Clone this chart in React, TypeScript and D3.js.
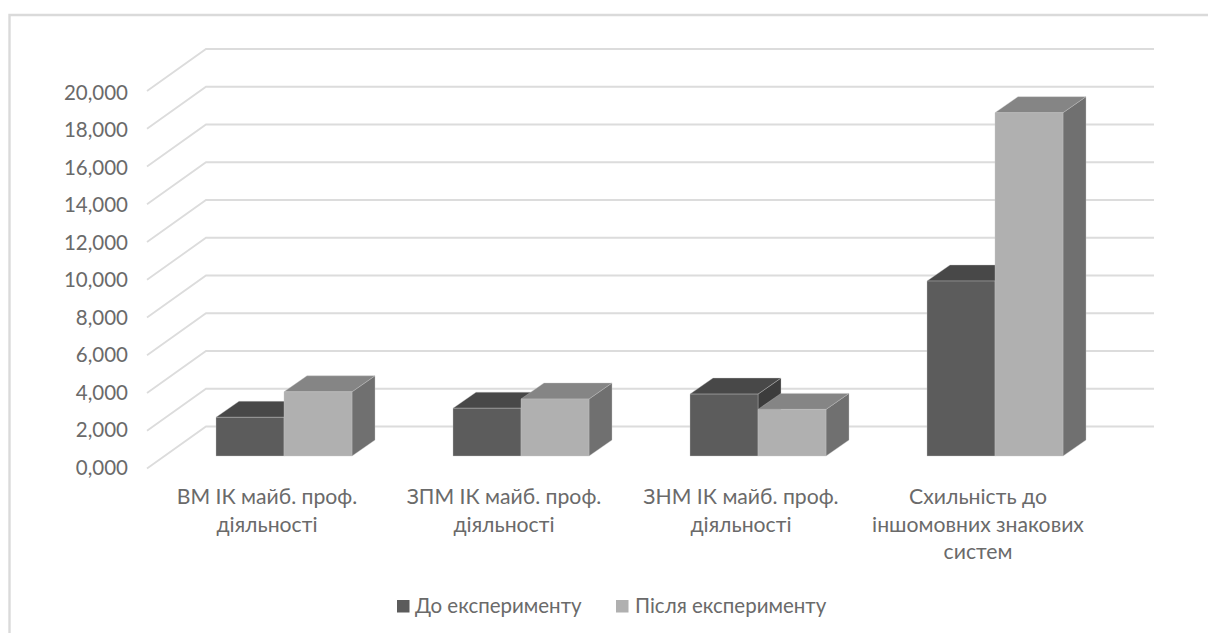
import React from "react";
import * as d3 from "d3";

const categories: string[][] = [
  ["ВМ ІК майб. проф.", "діяльності"],
  ["ЗПМ ІК майб. проф.", "діяльності"],
  ["ЗНМ ІК майб. проф.", "діяльності"],
  ["Схильність до", "іншомовних знакових", "систем"],
];
const seriesNames = ["До експерименту", "Після експерименту"];
const before = [2.05, 2.53, 3.28, 9.27];
const after = [3.4, 3.02, 2.47, 18.19];
const ticks = [0, 2, 4, 6, 8, 10, 12, 14, 16, 18, 20];

const W = 1208;
const H = 633;
const font = "Lato, 'Open Sans', sans-serif";
const fontSize = 20.5;
const categoryFontSize = 21.2;
const textColor = "#6a6a6a";
const gridColor = "#dcdcdc";

// Front-face, top-face and side-face shades for each series.
const palette = [
  { front: "#5c5c5c", top: "#484848", side: "#3c3c3c" },
  { front: "#b0b0b0", top: "#858585", side: "#707070" },
];

// Oblique projection: wall sits behind the floor's front edge by this offset.
const wallDx = 59;
const wallDy = -42;
const barDx = 23;
const barDy = -16;

const yFront = d3.scaleLinear().domain([0, 20]).range([468.5, 91]);
const yLabel = d3.scaleLinear().domain([0, 20]).range([474.5, 100]);
const xWall = d3.scaleBand<number>().domain(d3.range(4)).range([206, 1154]);
const xBars = d3.scaleBand<number>().domain(d3.range(4)).range([165.5, 1113.5]);
const innerBar = d3.scaleBand<number>().domain([0, 1]).range([-68, 68]);
const barBaseY = 456;
const unitsToPx = yFront(0) - yFront(1);

function Bar({ i, s, value }: { i: number; s: number; value: number }) {
  const c = palette[s];
  const cx = (xBars(i) as number) + xBars.bandwidth() / 2;
  const x0 = cx + (innerBar(s) as number);
  const x1 = x0 + innerBar.bandwidth();
  const yTop = barBaseY - value * unitsToPx;
  const pts = (a: [number, number][]) => a.map((p) => p.join(",")).join(" ");
  return (
    <g stroke="#c4c4c4" strokeOpacity={0.6} strokeWidth={0.6} strokeLinejoin="round">
      <polygon
        fill={c.side}
        points={pts([
          [x1, barBaseY],
          [x1 + barDx, barBaseY + barDy],
          [x1 + barDx, yTop + barDy],
          [x1, yTop],
        ])}
      />
      <polygon
        fill={c.top}
        points={pts([
          [x0, yTop],
          [x0 + barDx, yTop + barDy],
          [x1 + barDx, yTop + barDy],
          [x1, yTop],
        ])}
      />
      <rect x={x0} y={yTop} width={x1 - x0} height={barBaseY - yTop} fill={c.front} />
    </g>
  );
}

export default function App() {
  const wallLeft = xWall.range()[0];
  const wallRight = xWall.range()[1];
  return (
    <svg
      width={W}
      height={H}
      viewBox={`0 0 ${W} ${H}`}
      style={{ position: "absolute", left: 0, top: 0, background: "#fff", display: "block" }}
    >
      {/* Chart frame: top and left edges are the only ones in view */}
      <path d={`M${W},15 H9.5 V${H}`} fill="none" stroke="#dadada" strokeWidth={2.4} />

      {/* Gridlines running along the side wall and the back wall */}
      {ticks.map((t) => {
        const y = yFront(t);
        return (
          <polyline
            key={t}
            points={`${wallLeft - wallDx},${y} ${wallLeft},${y + wallDy} ${wallRight},${y + wallDy}`}
            fill="none"
            stroke={gridColor}
            strokeWidth={1.8}
          />
        );
      })}

      {/* Value axis labels */}
      {ticks.map((t) => (
        <text
          key={t}
          x={128}
          y={yLabel(t)}
          textAnchor="end"
          fontFamily={font}
          fontSize={fontSize}
          fill={textColor}
        >
          {d3.format(".3f")(t).replace(".", ",")}
        </text>
      ))}

      {/* Columns: the left one is painted first so the right one overlaps it */}
      {categories.map((_, i) => (
        <g key={i}>
          <Bar i={i} s={0} value={before[i]} />
          <Bar i={i} s={1} value={after[i]} />
        </g>
      ))}

      {/* Category labels */}
      {categories.map((lines, i) => (
        <text
          key={i}
          textAnchor="middle"
          fontFamily={font}
          fontSize={categoryFontSize}
          fill={textColor}
        >
          {lines.map((l, j) => (
            <tspan key={j} x={(xBars(i) as number) + xBars.bandwidth() / 2 - 17} y={504 + j * 27.5}>
              {l}
            </tspan>
          ))}
        </text>
      ))}

      {/* Legend */}
      <rect x={397} y={600} width={12.5} height={12.5} fill={palette[0].front} />
      <text x={415} y={612.5} fontFamily={font} fontSize={fontSize} fill={textColor}>
        {seriesNames[0]}
      </text>
      <rect x={616} y={600} width={12.5} height={12.5} fill={palette[1].front} />
      <text x={635} y={612.5} fontFamily={font} fontSize={fontSize} fill={textColor}>
        {seriesNames[1]}
      </text>
    </svg>
  );
}
